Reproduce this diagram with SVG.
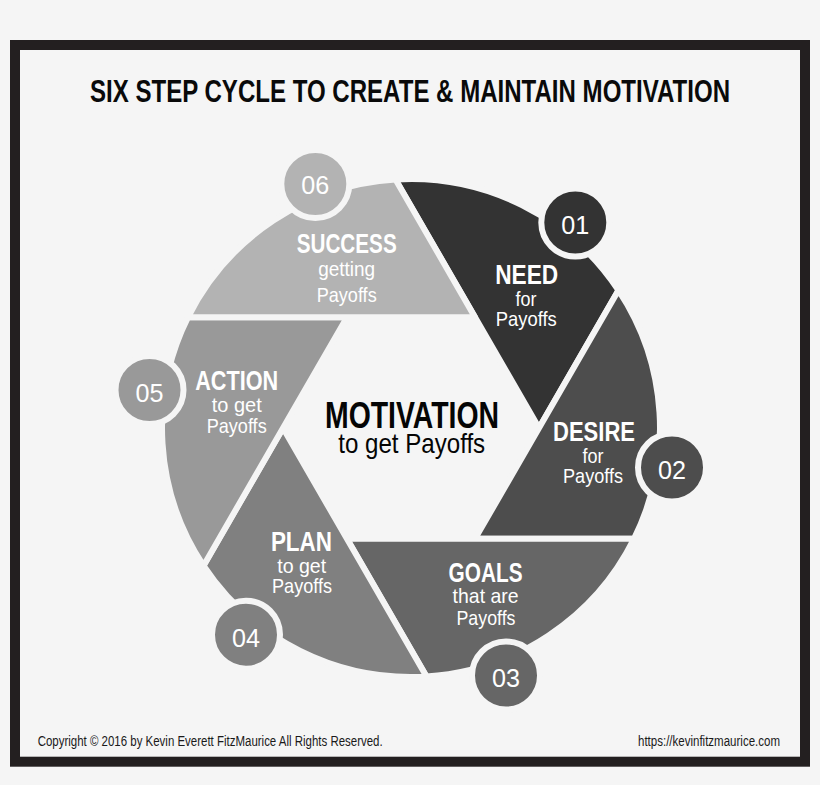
<svg xmlns="http://www.w3.org/2000/svg" width="820" height="785" viewBox="0 0 820 785">
<style>
.blade{stroke:#f5f5f5;stroke-width:6;stroke-linejoin:round}
.badge{stroke:#f5f5f5;stroke-width:6}
.t{font-family:"Liberation Sans",Arial,sans-serif;font-weight:bold;font-size:27px;fill:#ffffff;text-anchor:middle}
.s{font-family:"Liberation Sans",Arial,sans-serif;font-size:21px;fill:#ffffff;text-anchor:middle}
.n{font-family:"Liberation Sans",Arial,sans-serif;font-size:25px;fill:#ffffff;text-anchor:middle}
.foot{font-family:"Liberation Sans",Arial,sans-serif;font-size:14px;fill:#1a1a1a}
</style>
<rect x="0" y="0" width="820" height="785" fill="#f5f5f5"/>
<rect id="frame" x="15" y="45" width="790" height="716.7" fill="#f5f5f5" stroke="#231f20" stroke-width="10"/>
<text id="title" x="410" y="101.5" font-family="Liberation Sans, Arial, sans-serif" font-weight="bold" font-size="31" fill="#0a0a0a" text-anchor="middle" textLength="640" lengthAdjust="spacingAndGlyphs">SIX STEP CYCLE TO CREATE &amp; MAINTAIN MOTIVATION</text>

<g id="step-01-need">
<path class="blade" fill="#333333" d="M539,428 L395.52,179.49 A249,249 0 0 1 618.48,290.34 Z"/>
<circle class="badge" cx="575.3" cy="222.5" r="34" fill="#333333"/>
<text class="n" x="575.3" y="234" textLength="28" lengthAdjust="spacingAndGlyphs">01</text>
<text class="t" x="526.7" y="284.3" textLength="63" lengthAdjust="spacingAndGlyphs">NEED</text>
<text class="s" x="526" y="306" textLength="21" lengthAdjust="spacingAndGlyphs">for</text>
<text class="s" x="526.3" y="326" textLength="61" lengthAdjust="spacingAndGlyphs">Payoffs</text>
</g>

<g id="step-02-desire">
<path class="blade" fill="#4d4d4d" d="M475,538.85 L618.48,290.34 A249,249 0 0 1 633.96,538.85 Z"/>
<circle class="badge" cx="672" cy="467.5" r="34" fill="#4d4d4d"/>
<text class="n" x="672" y="479" textLength="28" lengthAdjust="spacingAndGlyphs">02</text>
<text class="t" x="594" y="441" textLength="82" lengthAdjust="spacingAndGlyphs">DESIRE</text>
<text class="s" x="593" y="462.7" textLength="21" lengthAdjust="spacingAndGlyphs">for</text>
<text class="s" x="593" y="482.7" textLength="60" lengthAdjust="spacingAndGlyphs">Payoffs</text>
</g>

<g id="step-03-goals">
<path class="blade" fill="#666666" d="M347,538.85 L633.96,538.85 A249,249 0 0 1 426.48,676.51 Z"/>
<circle class="badge" cx="506" cy="675.5" r="34" fill="#666666"/>
<text class="n" x="506" y="686.7" textLength="28" lengthAdjust="spacingAndGlyphs">03</text>
<text class="t" x="485.6" y="581.7" textLength="74" lengthAdjust="spacingAndGlyphs">GOALS</text>
<text class="s" x="485.6" y="603.3" textLength="66" lengthAdjust="spacingAndGlyphs">that are</text>
<text class="s" x="486" y="625" textLength="59" lengthAdjust="spacingAndGlyphs">Payoffs</text>
</g>

<g id="step-04-plan">
<path class="blade" fill="#808080" d="M283,428 L426.48,676.51 A249,249 0 0 1 203.52,565.66 Z"/>
<circle class="badge" cx="246" cy="634.7" r="34" fill="#808080"/>
<text class="n" x="246" y="646.5" textLength="28" lengthAdjust="spacingAndGlyphs">04</text>
<text class="t" x="301.4" y="550.7" textLength="61" lengthAdjust="spacingAndGlyphs">PLAN</text>
<text class="s" x="301.7" y="573.3" textLength="49" lengthAdjust="spacingAndGlyphs">to get</text>
<text class="s" x="302" y="593.3" textLength="60" lengthAdjust="spacingAndGlyphs">Payoffs</text>
</g>

<g id="step-05-action">
<path class="blade" fill="#999999" d="M347,317.15 L203.52,565.66 A249,249 0 0 1 188.04,317.15 Z"/>
<circle class="badge" cx="149.5" cy="390" r="34" fill="#999999"/>
<text class="n" x="149.5" y="401.5" textLength="28" lengthAdjust="spacingAndGlyphs">05</text>
<text class="t" x="236.7" y="390" textLength="83" lengthAdjust="spacingAndGlyphs">ACTION</text>
<text class="s" x="236.7" y="411.7" textLength="50" lengthAdjust="spacingAndGlyphs">to get</text>
<text class="s" x="236.7" y="432.7" textLength="60" lengthAdjust="spacingAndGlyphs">Payoffs</text>
</g>

<g id="step-06-success">
<path class="blade" fill="#b3b3b3" d="M475,317.15 L188.04,317.15 A249,249 0 0 1 395.52,179.49 Z"/>
<circle class="badge" cx="315.3" cy="184" r="34" fill="#b3b3b3"/>
<text class="n" x="315.3" y="194.3" textLength="28" lengthAdjust="spacingAndGlyphs">06</text>
<text class="t" x="346.7" y="253.3" textLength="100" lengthAdjust="spacingAndGlyphs">SUCCESS</text>
<text class="s" x="346.7" y="276" textLength="57" lengthAdjust="spacingAndGlyphs">getting</text>
<text class="s" x="346.7" y="301.5" textLength="60" lengthAdjust="spacingAndGlyphs">Payoffs</text>
</g>

<g id="center-motivation">
<text x="412" y="427.7" font-family="Liberation Sans, Arial, sans-serif" font-weight="bold" font-size="36" fill="#050505" text-anchor="middle" textLength="174" lengthAdjust="spacingAndGlyphs">MOTIVATION</text>
<text x="411.7" y="453.3" font-family="Liberation Sans, Arial, sans-serif" font-size="28" fill="#050505" text-anchor="middle" textLength="147" lengthAdjust="spacingAndGlyphs">to get Payoffs</text>
</g>

<g id="connectors"></g>

<text class="foot" x="37.7" y="746" textLength="345" lengthAdjust="spacingAndGlyphs">Copyright © 2016 by Kevin Everett FitzMaurice All Rights Reserved.</text>
<text class="foot" x="638" y="746" textLength="142" lengthAdjust="spacingAndGlyphs">https://kevinfitzmaurice.com</text>
</svg>
